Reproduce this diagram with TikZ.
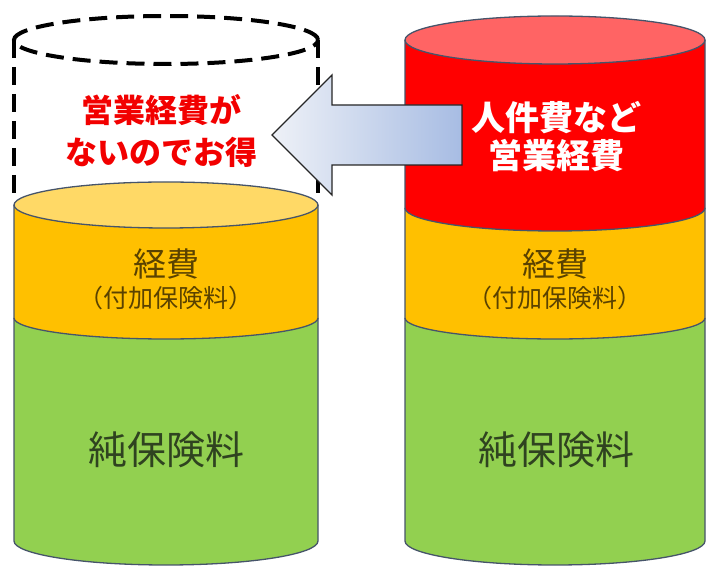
\documentclass[tikz,border=0pt]{standalone}
\usepackage{fontspec}
\setmainfont{Noto Sans CJK JP}
\usetikzlibrary{positioning}
\usetikzlibrary{arrows}
\definecolor{purec}{HTML}{92D050}
\definecolor{loadc}{HTML}{FFC000}
\definecolor{loadtopc}{HTML}{FFD966}
\definecolor{salesc}{HTML}{FF0000}
\definecolor{salestopc}{HTML}{FF6464}
\definecolor{rimc}{HTML}{46546A}
\definecolor{loadtextc}{HTML}{5A4200}
\definecolor{puretextc}{HTML}{2F4320}
\definecolor{arrowlc}{HTML}{EEF1F7}
\definecolor{arrowrc}{HTML}{A7BCE3}
\colorlet{gainc}{red!95!black}
\tikzset{
  rim/.style={draw=rimc, line width=1.3pt},
  ghost/.style={draw=black, line width=4pt, dash pattern=on 18pt off 9pt},
  bigarrow/.style={draw=black!85, line width=1.3pt, left color=arrowlc, right color=arrowrc},
  labeltext/.style={align=center, inner sep=0pt}
}

\begin{document}
\begin{tikzpicture}[x=1pt,y=1pt]
        \useasboundingbox (0,0) rectangle (706,567);

        % left cylinder: no sales cost
        \fill[purec] (14,249) -- (14,26) arc[start angle=180,end angle=360,x radius=152,y radius=24] -- (318,249) -- cycle;
        \draw[rim] (14,249) -- (14,26) arc[start angle=180,end angle=360,x radius=152,y radius=24] -- (318,249);
        \fill[loadc] (14,362) -- (14,249) arc[start angle=180,end angle=360,x radius=152,y radius=21] -- (318,362) -- cycle;
        \draw[rim] (14,362) -- (14,249) arc[start angle=180,end angle=360,x radius=152,y radius=21] -- (318,362);
        \filldraw[rim, fill=loadtopc] (166,362) ellipse [x radius=152,y radius=23];
        \draw[ghost] (166,527) ellipse [x radius=152,y radius=24];
        \draw[ghost] (14,527) -- (14,366);
        \draw[ghost] (318,527) -- (318,366);

        % right cylinder: with sales cost
        \fill[purec] (405,249) -- (405,26) arc[start angle=180,end angle=360,x radius=150,y radius=24] -- (705,249) -- cycle;
        \draw[rim] (405,249) -- (405,26) arc[start angle=180,end angle=360,x radius=150,y radius=24] -- (705,249);
        \fill[loadc] (405,359) -- (405,249) arc[start angle=180,end angle=360,x radius=150,y radius=21] -- (705,359) -- cycle;
        \draw[rim] (405,359) -- (405,249) arc[start angle=180,end angle=360,x radius=150,y radius=21] -- (705,359);
        \fill[salesc] (405,527) -- (405,359) arc[start angle=180,end angle=360,x radius=150,y radius=23] -- (705,527) -- cycle;
        \draw[rim] (405,527) -- (405,359) arc[start angle=180,end angle=360,x radius=150,y radius=23] -- (705,527);
        \filldraw[rim, fill=salestopc] (555,527) ellipse [x radius=150,y radius=24];

        % arrow
        \shadedraw[bigarrow] (272,432) -- (332,492) -- (332,462) -- (462,462) -- (462,402) -- (332,402) -- (332,372) -- cycle;

        % labels
        \node[labeltext, text=gainc, font=\fontsize{32}{42}\selectfont\bfseries]
        (gain) at (161,436) {営業経費が\\ないのでお得};
        \node[labeltext, text=white, font=\fontsize{34}{38}\selectfont\bfseries]
        (salescost) at (556,430) {人件費など\\営業経費};

        \node[labeltext, text=loadtextc, font=\fontsize{33}{33}\selectfont]
        (loadL) at (166,303) {経費};
        \node[labeltext, text=loadtextc, font=\fontsize{25}{25}\selectfont, below=6pt of loadL]
        (loadLsub) {（付加保険料）};
        \node[labeltext, text=loadtextc, font=\fontsize{33}{33}\selectfont]
        (loadR) at (555,303) {経費};
        \node[labeltext, text=loadtextc, font=\fontsize{25}{25}\selectfont, below=6pt of loadR]
        (loadRsub) {（付加保険料）};

        \node[labeltext, text=puretextc, font=\fontsize{39}{39}\selectfont]
        (pureL) at (166,117) {純保険料};
        \node[labeltext, text=puretextc, font=\fontsize{39}{39}\selectfont]
        (pureR) at (556,117) {純保険料};

        \end{tikzpicture}
\end{document}
